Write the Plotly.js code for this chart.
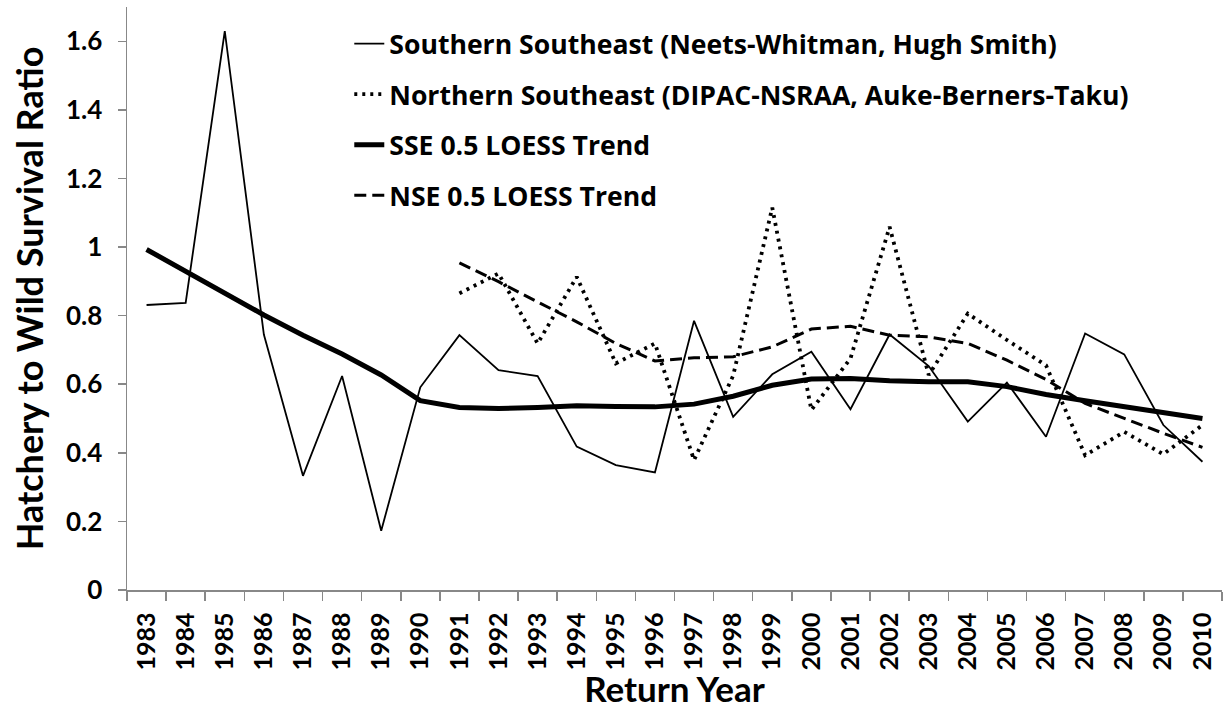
<!DOCTYPE html>
<html>
<head>
<meta charset="utf-8">
<script src="https://cdn.plot.ly/plotly-3.0.1.min.js"></script>
<style>html,body{margin:0;padding:0;background:#fff;}#chart{width:1224px;height:709px;}</style>
</head>
<body>
<div id="chart"></div>
<script>
const years = ["1983","1984","1985","1986","1987","1988","1989","1990","1991","1992","1993","1994","1995","1996","1997","1998","1999","2000","2001","2002","2003","2004","2005","2006","2007","2008","2009","2010"];
const nseYears = years.slice(8);

const sseRatio = [0.831,0.837,1.630,0.745,0.333,0.624,0.173,0.591,0.743,0.641,0.624,0.418,0.364,0.343,0.785,0.505,0.629,0.695,0.527,0.745,0.653,0.491,0.605,0.447,0.748,0.687,0.481,0.374];
const nseRatio = [0.865,0.923,0.719,0.913,0.661,0.719,0.379,0.625,1.115,0.525,0.675,1.059,0.627,0.806,0.729,0.655,0.393,0.461,0.396,0.481];
const sseTrend = [0.993,0.928,0.865,0.802,0.743,0.688,0.627,0.552,0.532,0.529,0.532,0.537,0.535,0.534,0.542,0.565,0.597,0.615,0.617,0.610,0.607,0.607,0.593,0.570,0.552,0.534,0.518,0.500];
const nseTrend = [0.954,0.899,0.840,0.782,0.719,0.668,0.677,0.680,0.709,0.761,0.769,0.743,0.738,0.719,0.670,0.614,0.544,0.500,0.457,0.416];

const seriesNames = [
  "Southern Southeast (Neets-Whitman, Hugh Smith)",
  "Northern Southeast (DIPAC-NSRAA, Auke-Berners-Taku)",
  "SSE 0.5 LOESS Trend",
  "NSE 0.5 LOESS Trend"
];

const FONT = "Lato, 'Open Sans', sans-serif";

const traces = [
  {x: years, y: sseRatio, name: seriesNames[0], legendgroup: "a", mode: "lines",
   line: {color: "#000", width: 1.8}},
  {x: nseYears, y: nseRatio, name: seriesNames[1], legendgroup: "b", mode: "lines",
   line: {color: "#000", width: 3.8, dash: "3px,5px"}},
  {x: years, y: sseTrend, name: seriesNames[2], legendgroup: "c", mode: "lines",
   line: {color: "#000", width: 5}},
  {x: nseYears, y: nseTrend, name: seriesNames[3], legendgroup: "d", mode: "lines",
   line: {color: "#000", width: 3, dash: "12px,6px"}}
];

const layout = {
  width: 1224, height: 709,
  margin: {l: 127, r: 2, t: 7, b: 119},
  paper_bgcolor: "#fff", plot_bgcolor: "#fff",
  font: {family: FONT, color: "#000"},
  showlegend: true,
  legend: {
    x: 0.203, y: 0.978, xanchor: "left", yanchor: "top",
    bgcolor: "rgba(0,0,0,0)", borderwidth: 0,
    font: {family: "'Open Sans', sans-serif", size: 26.6, weight: 700, color: "#000"},
    tracegroupgap: 13, traceorder: "grouped", itemwidth: 30
  },
  xaxis: {
    type: "category", range: [-0.5, 27.5],
    showline: true, linecolor: "#888", linewidth: 1.5,
    ticks: "outside", tickson: "boundaries", ticklen: 9, tickcolor: "#888", tickwidth: 1.5,
    tickangle: -90, showgrid: false, zeroline: false,
    tickfont: {family: FONT, size: 25, weight: 700, color: "#000"},
    ticklabelstandoff: 11,
    title: {text: "Return Year", font: {family: FONT, size: 35, weight: 700, color: "#000"}, standoff: 6}
  },
  yaxis: {
    range: [0, 1.7], dtick: 0.2, tick0: 0,
    showline: true, linecolor: "#888", linewidth: 1.5,
    ticks: "outside", ticklen: 8, tickcolor: "#888", tickwidth: 1.5,
    showgrid: false, zeroline: false,
    tickfont: {family: FONT, size: 26, weight: 700, color: "#000"},
    ticklabelstandoff: 10,
    title: {text: "Hatchery to Wild Survival Ratio", font: {family: FONT, size: 36, weight: 700, color: "#000"}, standoff: 11}
  }
};

Plotly.newPlot("chart", traces, layout, {staticPlot: true, displayModeBar: false});
</script>
</body>
</html>
